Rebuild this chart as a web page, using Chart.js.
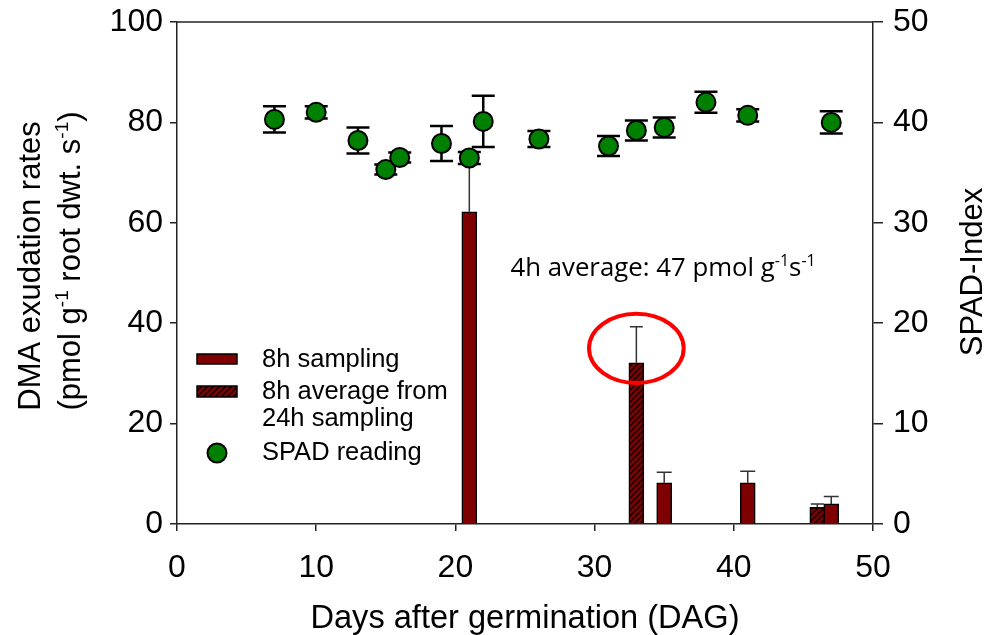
<!DOCTYPE html>
<html>
<head>
<meta charset="utf-8">
<title>DMA exudation and SPAD index</title>
<script src="https://cdn.jsdelivr.net/npm/chart.js@4.4.1/dist/chart.umd.min.js"></script>
<style>
  html, body { margin: 0; padding: 0; background: #fff; }
  #wrap { width: 986px; height: 635px; }
</style>
</head>
<body>
<div id="wrap"><canvas id="chart" width="986" height="635"></canvas></div>
<script>
// DMA exudation rates (bars, left axis) and SPAD index (points, right axis)

// 8h sampling bars
const days8h = [21, 35, 41, 47];
const dma8h = [62.2, 8.2, 8.2, 4.0];
const dma8hErr = [10, 2.1, 2.3, 1.5];

// 8h average from 24h sampling (hatched bars)
const days24h = [33, 46];
const dma24h = [32.1, 3.3];
const dma24hErr = [7.2, 0.7];

// SPAD readings
const spadDays = [7, 10, 13, 15, 16, 19, 21, 22, 26, 31, 33, 35, 38, 41, 47];
const spad = [40.3, 41.0, 38.2, 35.3, 36.5, 37.9, 36.45, 40.1, 38.35, 37.65, 39.2, 39.5, 42.0, 40.7, 40.0];
const spadErr = [1.3, 0.6, 1.3, 0.5, 0.5, 1.75, 0.6, 2.55, 0.8, 1.0, 1.0, 1.0, 1.05, 0.6, 1.1];

// axis ranges
const xRange = [0, 50, 10];
const leftRange = [0, 100, 20];
const rightRange = [0, 50, 10];

// highlighted 24h bar and its note
const noteText = ['4h average: 47 pmol g', '-1', 's', '-1'];
const highlight = { x: 33, y: 35, rx: 3.4, ry: 6.9 };
const noteAt = { x: 23.95, y: 49.4 };

const ARIAL = "'Liberation Sans', Arial, sans-serif";
const DARKRED = '#7f0000';
const GREEN = '#008000';

function makeHatch(ctx){
  const p = document.createElement('canvas');
  p.width = 6; p.height = 6;
  const g = p.getContext('2d');
  g.fillStyle = DARKRED;
  g.fillRect(0, 0, 6, 6);
  g.strokeStyle = '#000';
  g.lineWidth = 1.4;
  g.beginPath();
  g.moveTo(-1, 7); g.lineTo(7, -1);
  g.moveTo(-4, 4); g.lineTo(4, -4);
  g.moveTo(2, 10); g.lineTo(10, 2);
  g.stroke();
  return ctx.createPattern(p, 'repeat');
}

const canvas = document.getElementById('chart');
const hatch = makeHatch(canvas.getContext('2d'));

function pts(xs, ys){ return xs.map((x, i) => ({ x: x, y: ys[i] })); }

// draws text pieces, odd entries as superscripts, centred on cx
function richText(ctx, parts, cx, cy, size, family, align){
  const supSize = Math.round(size * 0.62);
  let total = 0;
  const widths = parts.map((t, i) => {
    ctx.font = (i % 2 ? supSize : size) + 'px ' + family;
    const w = ctx.measureText(t).width;
    total += w;
    return w;
  });
  let x = align === 'left' ? cx : cx - total / 2;
  ctx.textAlign = 'left';
  ctx.textBaseline = 'alphabetic';
  parts.forEach((t, i) => {
    ctx.font = (i % 2 ? supSize : size) + 'px ' + family;
    ctx.fillText(t, x, cy - (i % 2 ? size * 0.38 : 0));
    x += widths[i];
  });
}

// error bars, drawn just before their dataset so the marks sit on top
const errorBars = {
  id: 'errorBars',
  beforeDatasetDraw(chart, args){
    const ds = chart.data.datasets[args.index];
    if(!ds.errors) return;
    const ctx = chart.ctx;
    const ys = chart.scales[ds.yAxisID];
    ctx.save();
    ctx.strokeStyle = ds.errorColor;
    ctx.lineWidth = ds.errorWidth;
    args.meta.data.forEach((el, i) => {
      const v = ds.data[i].y, e = ds.errors[i];
      const x = el.x;
      const hi = ys.getPixelForValue(v + e);
      const lo = ds.type === 'bar' ? ys.getPixelForValue(v) : ys.getPixelForValue(v - e);
      const half = ds.capWidth / 2;
      ctx.beginPath();
      ctx.moveTo(x, lo); ctx.lineTo(x, hi);
      ctx.moveTo(x - half, hi); ctx.lineTo(x + half, hi);
      if(ds.type !== 'bar'){ ctx.moveTo(x - half, lo); ctx.lineTo(x + half, lo); }
      ctx.stroke();
    });
    ctx.restore();
  }
};

// frame top, axis titles, legend, note and red ellipse
const overlay = {
  id: 'overlay',
  afterDraw(chart){
    const ctx = chart.ctx;
    const a = chart.chartArea;
    const sx = chart.scales.x, sy = chart.scales.y;
    ctx.save();

    ctx.strokeStyle = '#222';
    ctx.lineWidth = 1.5;
    ctx.beginPath();
    ctx.moveTo(a.left, a.top); ctx.lineTo(a.right, a.top);
    ctx.stroke();

    ctx.fillStyle = '#000';
    // x title
    richText(ctx, ['Days after germination (DAG)'], (a.left + a.right) / 2, 628, 32.6, ARIAL);
    // left title, two rotated lines
    ctx.save();
    ctx.translate(40, 266);
    ctx.rotate(-Math.PI / 2);
    richText(ctx, ['DMA exudation rates'], 0, 0, 31, ARIAL);
    ctx.restore();
    ctx.save();
    ctx.translate(80, 261);
    ctx.rotate(-Math.PI / 2);
    richText(ctx, ['(pmol g', '-1', ' root dwt. s', '-1', ')'], 0, 0, 31, ARIAL);
    ctx.restore();
    // right title
    ctx.save();
    ctx.translate(982, 272);
    ctx.rotate(-Math.PI / 2);
    richText(ctx, ['SPAD-Index'], 0, 0, 31, ARIAL);
    ctx.restore();

    // note
    richText(ctx, noteText, sx.getPixelForValue(noteAt.x), sy.getPixelForValue(noteAt.y), 25.8, "'Open Sans', 'Noto Sans', sans-serif", 'left');

    // ellipse round the 24h bar
    const ex = sx.getPixelForValue(highlight.x), ey = sy.getPixelForValue(highlight.y);
    const erx = sx.getPixelForValue(highlight.x + highlight.rx) - ex;
    const ery = ey - sy.getPixelForValue(highlight.y + highlight.ry);
    ctx.strokeStyle = '#ff0000';
    ctx.lineWidth = 4;
    ctx.beginPath();
    ctx.ellipse(ex, ey, erx, ery, 0, 0, Math.PI * 2);
    ctx.stroke();

    // legend
    const lx = a.left + 20, tx = a.left + 85;
    ctx.lineWidth = 1.5;
    ctx.strokeStyle = '#000';
    ctx.fillStyle = DARKRED;
    ctx.fillRect(lx, 354, 40, 10);
    ctx.strokeRect(lx, 354, 40, 10);
    ctx.fillStyle = hatch;
    ctx.fillRect(lx, 386, 40, 11);
    ctx.strokeRect(lx, 386, 40, 11);
    ctx.beginPath();
    ctx.arc(lx + 20, 453, 9.5, 0, Math.PI * 2);
    ctx.fillStyle = GREEN;
    ctx.fill();
    ctx.lineWidth = 2;
    ctx.stroke();

    ctx.fillStyle = '#000';
    ctx.font = '25.5px ' + ARIAL;
    ctx.textAlign = 'left';
    ctx.textBaseline = 'middle';
    ctx.fillText('8h sampling', tx, 360);
    ctx.fillText('8h average from', tx, 392);
    ctx.fillText('24h sampling', tx, 419);
    ctx.fillText('SPAD reading', tx, 453);

    ctx.restore();
  }
};

const tickFont = { family: ARIAL, size: 32 };

// fixed axis sizes so the plot box sits where it does in the figure
function fitY(width){
  return s => { s.width = width; s.paddingTop = 0; s.paddingBottom = 0; };
}

new Chart(canvas, {
  type: 'bar',
  data: {
    datasets: [
      {
        type: 'scatter', label: 'SPAD reading', data: pts(spadDays, spad), yAxisID: 'y2', order: 0,
        pointRadius: 9.5, pointBackgroundColor: GREEN, pointBorderColor: '#000', pointBorderWidth: 2,
        showLine: false,
        errors: spadErr, errorColor: '#000', errorWidth: 2.5, capWidth: 23
      },
      {
        type: 'bar', label: '8h sampling', data: pts(days8h, dma8h), yAxisID: 'y', order: 1,
        backgroundColor: DARKRED, borderColor: '#000', borderWidth: 1.5, borderSkipped: 'bottom',
        barThickness: 15, grouped: false,
        errors: dma8hErr, errorColor: '#333', errorWidth: 1.5, capWidth: 15
      },
      {
        type: 'bar', label: '8h average from 24h sampling', data: pts(days24h, dma24h), yAxisID: 'y', order: 2,
        backgroundColor: hatch, borderColor: '#000', borderWidth: 1.5, borderSkipped: 'bottom',
        barThickness: 15, grouped: false,
        errors: dma24hErr, errorColor: '#333', errorWidth: 1.5, capWidth: 13
      }
    ]
  },
  options: {
    responsive: false,
    animation: false,
    layout: { padding: { top: 22, left: 0, right: 0, bottom: 0 } },
    plugins: { legend: { display: false }, tooltip: { enabled: false } },
    scales: {
      x: {
        type: 'linear', position: 'bottom', min: xRange[0], max: xRange[1], offset: false,
        ticks: { stepSize: xRange[2], color: '#000', font: tickFont, padding: 18, maxRotation: 0 },
        grid: { offset: false, drawOnChartArea: false, drawTicks: true, tickLength: 7, color: '#222', lineWidth: 1.5 },
        border: { display: true, color: '#222', width: 1.5 },
        afterFit: s => { s.height = 111; s.paddingLeft = 0; s.paddingRight = 0; }
      },
      y: {
        position: 'left', min: leftRange[0], max: leftRange[1],
        ticks: { stepSize: leftRange[2], color: '#000', font: tickFont, padding: 7 },
        grid: { drawOnChartArea: false, drawTicks: true, tickLength: 7, color: '#222', lineWidth: 1.5 },
        border: { display: true, color: '#222', width: 1.5 },
        afterFit: fitY(177)
      },
      y2: {
        position: 'right', min: rightRange[0], max: rightRange[1],
        ticks: { stepSize: rightRange[2], color: '#000', font: tickFont, padding: 10 },
        grid: { drawOnChartArea: false, drawTicks: true, tickLength: 10, color: '#222', lineWidth: 1.5 },
        border: { display: true, color: '#222', width: 1.5 },
        afterFit: fitY(113)
      }
    }
  },
  plugins: [errorBars, overlay]
});
</script>
</body>
</html>
